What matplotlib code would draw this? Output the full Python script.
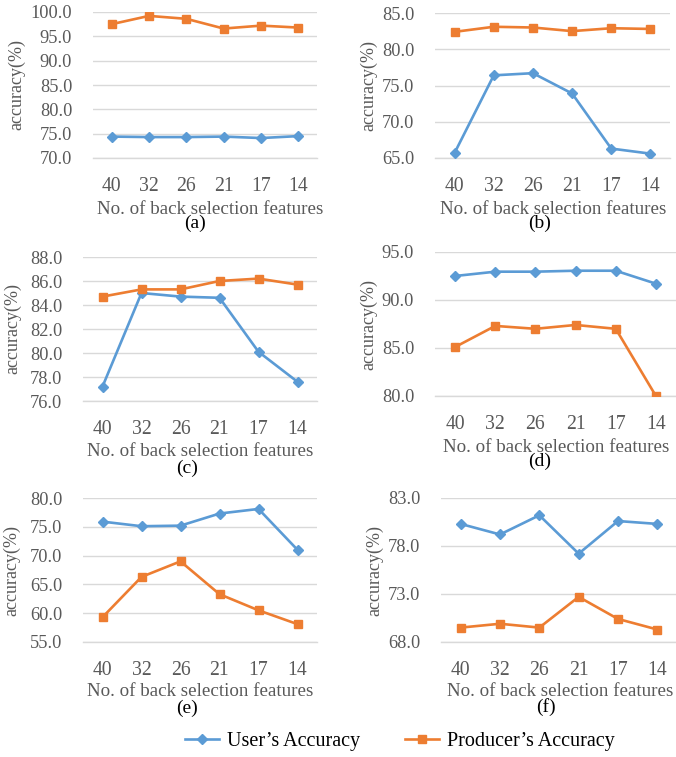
import matplotlib
matplotlib.use("Agg")
import matplotlib.pyplot as plt
from matplotlib.lines import Line2D

W, H = 676, 757
features = ["40", "32", "26", "21", "17", "14"]

users_a = [74.4, 74.3, 74.3, 74.4, 74.1, 74.5]
producers_a = [97.5, 99.2, 98.6, 96.6, 97.2, 96.8]
users_b = [65.7, 76.4, 76.7, 73.9, 66.3, 65.6]
producers_b = [82.4, 83.1, 83.0, 82.5, 82.9, 82.8]
users_c = [77.2, 85.0, 84.7, 84.6, 80.1, 77.6]
producers_c = [84.7, 85.3, 85.3, 86.0, 86.2, 85.7]
users_d = [92.5, 92.95, 92.95, 93.05, 93.05, 91.7]
producers_d = [85.1, 87.3, 87.0, 87.4, 87.0, 80.0]
users_e = [75.9, 75.1, 75.2, 77.3, 78.1, 71.0]
producers_e = [59.3, 66.3, 69.0, 63.3, 60.5, 58.1]
users_f = [80.3, 79.2, 81.2, 77.2, 80.6, 80.3]
producers_f = [69.5, 69.9, 69.5, 72.7, 70.4, 69.3]

panel_tags = ["(a)", "(b)", "(c)", "(d)", "(e)", "(f)"]
y_ranges = [(70, 100, 5), (65, 85, 5), (76, 88, 2), (80, 95, 5), (55, 80, 5), (68, 83, 5)]
legend_labels = ["User\u2019s Accuracy", "Producer\u2019s Accuracy"]

BLUE = "#5B9BD5"
ORANGE = "#ED7D31"
GRID = "#D9D9D9"
TEXT = "#595959"
FONT = "Liberation Serif"

plt.rcParams["font.family"] = FONT

fig = plt.figure(figsize=(W / 100, H / 100), dpi=100)

# axes boxes in pixels: left, top, right, bottom
boxes = [
    (93, 12, 317, 158),
    (435, 13, 670, 158),
    (83, 257, 317, 401),
    (435, 252, 676, 396),
    (83, 498, 317, 642),
    (441, 498, 677, 642),
]
ylabel_x = [17, 369, 13, 369, 12, 375]
xlabel_pos = [(210, 209), (553, 209), (200, 451), (556, 447), (200, 692), (560, 692)]
tag_pos = [(195, 223), (540, 223), (187, 468), (540, 461), (187, 708), (546, 707)]

series = [
    (users_a, producers_a), (users_b, producers_b), (users_c, producers_c),
    (users_d, producers_d), (users_e, producers_e), (users_f, producers_f),
]


def fx(px):
    return px / W


def fy(py):
    return 1 - py / H


for i, (box, (u, p), (lo, hi, step)) in enumerate(zip(boxes, series, y_ranges)):
    l, t, r, b = box
    ax = fig.add_axes([fx(l), fy(b), fx(r) - fx(l), fy(t) - fy(b)])
    x = list(range(len(features)))
    ax.plot(x, u, color=BLUE, lw=1.9, marker="D", ms=5.5, zorder=3)
    ax.plot(x, p, color=ORANGE, lw=1.9, marker="s", ms=6, zorder=3)
    ax.set_xlim(-0.5, len(features) - 0.5)
    ax.set_ylim(lo, hi)
    ticks = [lo + k * step for k in range(int(round((hi - lo) / step)) + 1)]
    ax.set_yticks(ticks)
    ax.set_yticklabels([f"{v:.1f}" for v in ticks])
    ax.set_xticks(x)
    ax.set_xticklabels(features)
    ax.grid(axis="y", color=GRID, lw=1.0)
    ax.set_axisbelow(True)
    for s in ("top", "right", "left"):
        ax.spines[s].set_visible(False)
    ax.spines["bottom"].set_color(GRID)
    ax.spines["bottom"].set_linewidth(1.0)
    ax.tick_params(axis="both", length=0, colors=TEXT)
    ax.tick_params(axis="y", pad=15, labelsize=13.2)
    ax.tick_params(axis="x", pad=14, labelsize=14.2)
    fig.text(fx(ylabel_x[i]), fy((t + b) / 2), "accuracy(%)", rotation=90,
             ha="center", va="center", fontsize=13, color=TEXT)
    fig.text(fx(xlabel_pos[i][0]), fy(xlabel_pos[i][1]), "No. of back selection features",
             ha="center", va="center", fontsize=13.7, color=TEXT)
    fig.text(fx(tag_pos[i][0]), fy(tag_pos[i][1]), panel_tags[i],
             ha="center", va="center", fontsize=14, color="#000000")

handles = [
    Line2D([], [], color=BLUE, lw=1.9, marker="D", ms=5.5),
    Line2D([], [], color=ORANGE, lw=1.9, marker="s", ms=6),
]
fig.legend(handles, legend_labels, loc="center",
           bbox_to_anchor=(fx(400), fy(741)), ncol=2, frameon=False,
           fontsize=14.5, labelcolor="#000000", handlelength=1.7,
           columnspacing=2.2, handletextpad=0.4)

fig.savefig("out.png", dpi=100)
